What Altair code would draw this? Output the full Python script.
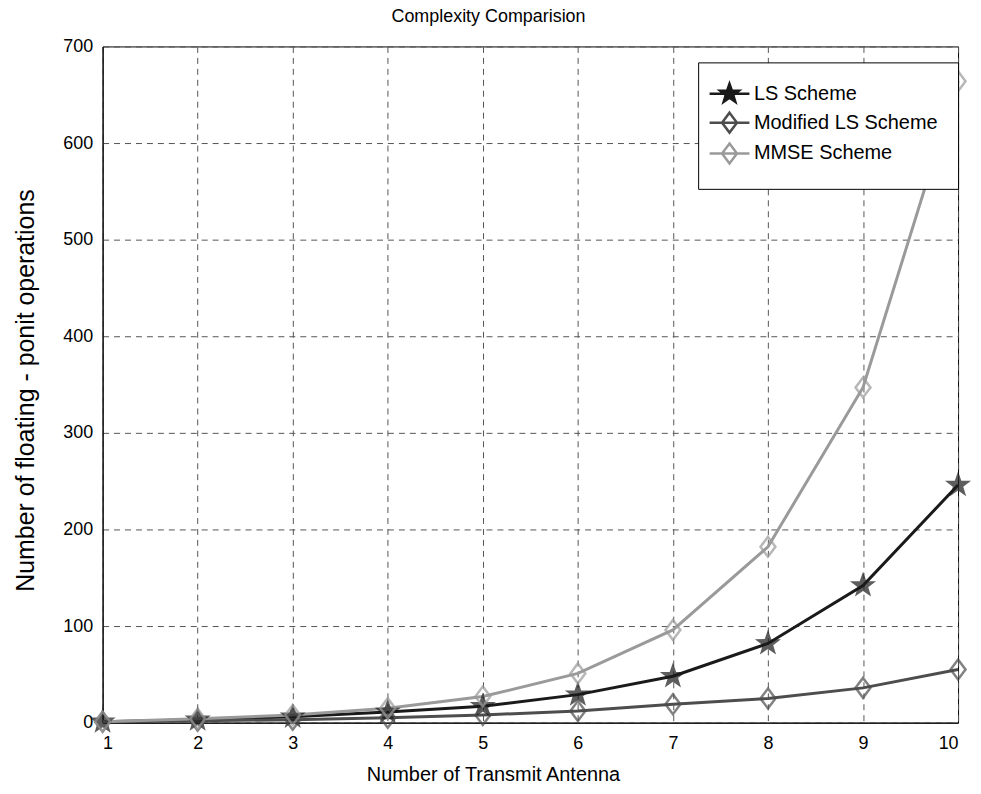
import math
import altair as alt
import pandas as pd

antennas = [1, 2, 3, 4, 5, 6, 7, 8, 9, 10]
ls_scheme = [1, 3, 6, 11, 17, 29, 48, 82, 142, 246]
modified_ls = [1, 2, 3, 5, 8, 12, 19, 25, 36, 55]
mmse_scheme = [1, 4, 8, 15, 27, 51, 96, 182, 347, 664]
series_names = ["LS Scheme", "Modified LS Scheme", "MMSE Scheme"]
series_colors = ["#1a1a1a", "#4d4d4d", "#9a9a9a"]
series_fills = ["#1a1a1a", "transparent", "transparent"]

rows = []
for name, vals in zip(series_names, [ls_scheme, modified_ls, mmse_scheme]):
    for a, v in zip(antennas, vals):
        rows.append({"antennas": a, "ops": v, "scheme": name})
df = pd.DataFrame(rows)

# marker shapes as SVG paths (Vega has no built-in star)
pts = []
for i in range(10):
    r = 1.0 if i % 2 == 0 else 0.4
    ang = -math.pi / 2 + i * math.pi / 5
    pts.append(f"{r*math.cos(ang):.3f},{r*math.sin(ang):.3f}")
star_path = "M" + "L".join(pts) + "Z"
diamond_path = "M0,-1L0.75,0L0,1L-0.75,0Z"
seg = " M-2,0L2,0"

FONT = "Liberation Sans"

x_enc = alt.X("antennas:Q", scale=alt.Scale(domain=[1, 10], nice=False, zero=False),
              axis=alt.Axis(values=antennas, title="Number of Transmit Antenna",
                            titleX=392, titleFontSize=20, titlePadding=12))
y_enc = alt.Y("ops:Q", scale=alt.Scale(domain=[0, 700], nice=False),
              axis=alt.Axis(values=list(range(0, 701, 100)),
                            title="Number of floating - ponit operations",
                            titleY=345, titleFontSize=25, titlePadding=24))

lines = alt.Chart(df).mark_line(strokeWidth=3).encode(
    x=x_enc, y=y_enc,
    stroke=alt.Stroke("scheme:N", scale=alt.Scale(domain=series_names, range=series_colors), legend=None),
)

points = alt.Chart(df).mark_point(filled=False, strokeWidth=2.5, size=400).encode(
    x=x_enc, y=y_enc,
    stroke=alt.Stroke("scheme:N", scale=alt.Scale(domain=series_names, range=series_colors), legend=None),
    fill=alt.Fill("scheme:N", scale=alt.Scale(domain=series_names, range=series_fills), legend=None),
    shape=alt.Shape("scheme:N", scale=alt.Scale(domain=series_names,
                                                range=[star_path, diamond_path, diamond_path]),
                    legend=None),
)

legend_layer = alt.Chart(df).mark_point(filled=False, strokeWidth=2.5, opacity=0, size=400).encode(
    x=x_enc, y=y_enc,
    stroke=alt.Stroke("scheme:N", scale=alt.Scale(domain=series_names, range=series_colors),
                      legend=alt.Legend(title=None)),
    fill=alt.Fill("scheme:N", scale=alt.Scale(domain=series_names, range=series_fills),
                  legend=alt.Legend(title=None)),
    shape=alt.Shape("scheme:N", scale=alt.Scale(domain=series_names,
                                                range=[star_path + seg, diamond_path + seg, diamond_path + seg]),
                    legend=alt.Legend(title=None, orient="none", legendX=598, legendY=16,
                                      padding=20, rowPadding=0, labelOffset=13,
                                      symbolSize=400, symbolStrokeWidth=2.5, symbolOpacity=1,
                                      labelFontSize=20, labelFont=FONT, labelColor="black",
                                      strokeColor="black", fillColor="white",
                                      labelLimit=400)),
)

chart = alt.layer(lines, points, legend_layer).resolve_scale(
    stroke="independent", fill="independent", shape="independent"
).properties(
    width=859, height=679,
    title=alt.TitleParams("Complexity Comparision", fontSize=18, font=FONT, fontWeight="normal",
                          color="black", anchor="middle", offset=12, dx=-42),
    autosize=alt.AutoSizeParams(type="none"),
    padding={"left": 95, "top": 37, "right": 15, "bottom": 60},
).configure_view(
    stroke="black", strokeWidth=1
).configure_axis(
    labelFont=FONT, labelFontSize=18, labelColor="black",
    titleFont=FONT, titleColor="black", titleFontWeight="normal",
    grid=True, gridColor="#555555", gridDash=[6, 5], gridWidth=1,
    domainColor="black", domainWidth=1, ticks=False,
).configure_axisX(
    labelPadding=12,
).configure_axisY(
    labelPadding=10,
)

chart.save("out.html", embed_options={"renderer": "svg", "actions": False})
